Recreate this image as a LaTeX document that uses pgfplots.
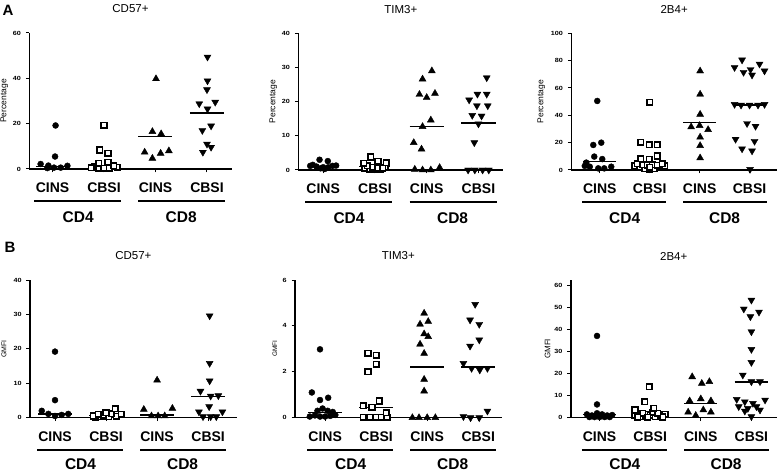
\documentclass[border=0pt]{standalone}
\usepackage{fontspec}
\setmainfont{Liberation Sans}
\usepackage{pgfplots}
\pgfplotsset{compat=1.18}
\pgfplotsset{
 gp/.style={
  scale only axis, clip=false,
  axis x line=bottom, axis y line=left,
  axis line style={line width=1.6pt,-},
  ymin=0,
  xtick={1,2,3,4}, xticklabels={},
  tick align=outside, major tick length=3.5pt,
  tick style={line width=1pt,black},
  yticklabel style={font=\fontsize{6}{6}\selectfont\bfseries, xscale=1.2, xshift=-0.5pt},
  /pgf/number format/assume math mode=true,
  every axis title/.style={at={(axis description cs:0.5,1)}, anchor=center, yshift=24pt, font=\fontsize{11.5}{12}\selectfont},
 },
 yl/.style 2 args={every axis y label/.style={at={(axis description cs:0,0.5)}, xshift=-#1pt, rotate=90, anchor=center, font=\fontsize{#2}{8}\selectfont}},
 ci/.style={only marks, mark=*, mark size=3pt, black},
 cb/.style={only marks, mark=square*, mark size=2.8pt, mark options={fill=white, draw=black, line width=1.6pt}},
 tu/.style={only marks, mark=triangle*, mark size=4pt, black},
 td/.style={only marks, mark=triangle*, mark size=4pt, black, mark options={rotate=180}},
 mn/.style={no marks, black, line width=1.5pt},
}
\newcommand{\grp}[2]{%
 \node[anchor=base, font=\fontsize{14}{14}\selectfont\bfseries] at ([yshift=-#1pt]axis cs:1,0) {CINS};
 \node[anchor=base, font=\fontsize{14}{14}\selectfont\bfseries] at ([yshift=-#1pt]axis cs:2,0) {CBSI};
 \node[anchor=base, font=\fontsize{14}{14}\selectfont\bfseries] at ([yshift=-#1pt]axis cs:3,0) {CINS};
 \node[anchor=base, font=\fontsize{14}{14}\selectfont\bfseries] at ([yshift=-#1pt]axis cs:4,0) {CBSI};
 \draw[line width=2pt] ([yshift=-#1pt-8pt]axis cs:0.65,0) -- ([yshift=-#1pt-8pt]axis cs:2.33,0);
 \draw[line width=2pt] ([yshift=-#1pt-8pt]axis cs:2.67,0) -- ([yshift=-#1pt-8pt]axis cs:4.35,0);
 \node[anchor=base, font=\fontsize{15.5}{16}\selectfont\bfseries] at ([yshift=-#2pt]axis cs:1.5,0) {CD4};
 \node[anchor=base, font=\fontsize{15.5}{16}\selectfont\bfseries] at ([yshift=-#2pt]axis cs:3.5,0) {CD8};
}
\begin{document}
\begin{tikzpicture}
\path[use as bounding box] (0pt,0pt) rectangle (778pt,473pt);
\node[font=\fontsize{15}{15}\selectfont\bfseries] at (8pt,463pt) {A};
\node[font=\fontsize{15}{15}\selectfont\bfseries] at (10pt,226pt) {B};
% ---------- A1
\begin{axis}[gp, yl={25}{8.5}, at={(29.3pt,304pt)}, anchor=south west, width=202.4pt, height=136pt,
  xmin=0.55, xmax=4.48, ymax=60, ytick={0,20,40,60}, title={CD57+}, ylabel={Percentage}]
\addplot[ci] coordinates {(0.77,2.2)(0.92,1.5)(1.03,0.6)(1.16,0.6)(1.29,1.4)(1.06,19.2)(1.05,5.5)(0.9,0.4)};
\addplot[cb] coordinates {(1.81,1)(1.75,0.5)(1.9,0.3)(2.0,0.3)(2.1,0.3)(2.26,0.8)(2.19,1.5)(1.9,2.5)(2.08,3)(1.92,8.4)(2.08,6.9)(2.0,19.2)};
\addplot[tu] coordinates {(3.01,39.8)(2.94,16.5)(3.11,15.5)(2.79,7.4)(2.94,4.7)(3.10,6.9)(3.26,8.0)};
\addplot[td] coordinates {(4.01,49.4)(4.01,38.9)(4.0,35)(3.85,28.8)(4.16,29.5)(4.01,26.5)(3.91,17)(4.08,19)(4.0,11)(4.08,9.6)(3.92,7.4)};
\addplot[mn] coordinates {(0.68,1.2)(1.34,1.2)};
\addplot[mn] coordinates {(1.7,1.4)(2.32,1.4)};
\addplot[mn] coordinates {(2.67,14.3)(3.33,14.3)};
\addplot[mn] coordinates {(3.67,24.6)(4.33,24.6)};
\grp{24}{54}
\end{axis}
% ---------- A2
\begin{axis}[gp, yl={25}{8.5}, at={(298.3pt,303pt)}, anchor=south west, width=205pt, height=136.7pt,
  xmin=0.52, xmax=4.48, ymax=40, ytick={0,10,20,30,40}, title={TIM3+}, ylabel={Percentage}]
\addplot[ci] coordinates {(0.75,1.2)(0.8,1.5)(0.87,1.0)(0.95,0.5)(1.03,0.3)(1.0,0.8)(1.1,0.8)(1.18,1.2)(1.25,1.3)(0.93,3.0)(1.09,2.6)};
\addplot[cb] coordinates {(1.8,0.6)(1.9,0.3)(2.0,0.2)(2.1,0.2)(2.2,0.8)(1.95,0.8)(2.05,0.5)(2.15,0.6)(1.85,1.2)(1.78,2.0)(2.22,2.1)(2.06,2.5)(1.92,3.8)};
\addplot[tu] coordinates {(3.1,29)(2.92,26.6)(2.86,22.1)(3.0,21.2)(3.16,22.4)(3.08,14.6)(2.92,12.7)(2.75,8)(2.9,6.1)(2.77,0.2)(2.92,0)(3.08,0)(3.25,0.7)};
\addplot[td] coordinates {(4.16,27)(3.98,22.2)(4.16,22.2)(3.82,20.5)(3.97,18.8)(4.18,18.8)(3.88,16)(4.06,15.8)(4.0,13.5)(3.92,8)(3.8,0)(3.93,0)(4.08,0)(4.2,0)};
\addplot[mn] coordinates {(0.7,1.0)(1.3,1.0)};
\addplot[mn] coordinates {(1.7,1.0)(2.3,1.0)};
\addplot[mn] coordinates {(2.67,12.7)(3.33,12.7)};
\addplot[mn] coordinates {(3.67,13.7)(4.33,13.7)};
\grp{24}{54}
\end{axis}
% ---------- A3
\begin{axis}[gp, yl={30}{8.5}, at={(571.3pt,303pt)}, anchor=south west, width=205.7pt, height=136.7pt,
  xmin=0.43, xmax=4.55, ymax=100, ytick={0,20,40,60,80,100}, title={2B4+}, ylabel={Percentage}]
\addplot[ci] coordinates {(0.95,50.5)(0.87,18.3)(1.03,20)(0.89,9.8)(1.05,8)(0.73,5.4)(0.8,2.4)(0.97,1.2)(1.09,1.2)(1.23,2.4)(0.7,3)};
\addplot[cb] coordinates {(1.7,3)(1.8,2)(1.9,1)(2.0,0.5)(2.1,1)(2.2,2)(2.3,3)(1.85,4)(1.95,3.5)(2.05,4)(2.15,3.5)(1.75,4.5)(2.25,4.5)(2.0,2)(1.82,8.3)(1.99,7.8)(2.15,10.2)(1.82,20.2)(1.99,18.5)(2.15,18.5)(2.0,49.5)};
\addplot[tu] coordinates {(3.01,72.4)(3.01,55.4)(3.01,40.7)(2.83,31.5)(3.0,32.5)(3.17,29.5)(3.01,24)(3.01,17.8)(3.01,8.8)};
\addplot[td] coordinates {(3.85,80.5)(3.7,75)(4.02,73.5)(4.2,77.5)(3.88,71.5)(4.05,69.5)(4.3,72.5)(3.7,48)(3.83,47.5)(4.0,47.5)(4.17,47.5)(4.3,48)(3.95,34)(4.12,32)(3.72,22.5)(4.1,21)(3.85,15.5)(4.05,14)(4.01,0.5)};
\addplot[mn] coordinates {(0.67,6.1)(1.33,6.1)};
\addplot[mn] coordinates {(1.67,4.5)(2.33,4.5)};
\addplot[mn] coordinates {(2.67,34.6)(3.33,34.6)};
\addplot[mn] coordinates {(3.67,47.5)(4.33,47.5)};
\grp{24}{54}
\end{axis}
% ---------- B1
\begin{axis}[gp, yl={26}{7}, at={(30pt,55.3pt)}, anchor=south west, width=206.7pt, height=137.7pt,
  xmin=0.51, xmax=4.56, ymax=40, ytick={0,10,20,30,40}, title={CD57+}, ylabel={GMFI}]
\addplot[ci] coordinates {(1.0,19.2)(1.0,5.1)(0.74,2.0)(0.87,1.1)(1.0,0.5)(1.13,0.8)(1.26,1.1)};
\addplot[cb] coordinates {(1.8,0.2)(1.75,0.5)(1.9,0.3)(2.05,0.3)(2.2,0.4)(2.3,1)(1.95,0.8)(2.1,1.2)(1.85,1)(2.0,1.5)(2.18,2.6)};
\addplot[tu] coordinates {(3.0,10.9)(2.74,2.4)(3.3,2.7)(2.89,0.5)(3.02,0.5)(3.15,0.5)};
\addplot[td] coordinates {(4.03,29.6)(4.03,15.8)(4.03,10.7)(3.85,7.7)(4.05,6.3)(4.2,6.4)(4.02,3.2)(3.82,1.7)(4.28,1.7)(3.9,0.3)(4.05,0.3)(4.16,0.3)};
\addplot[mn] coordinates {(0.67,1.1)(1.33,1.1)};
\addplot[mn] coordinates {(1.67,0.7)(2.33,0.7)};
\addplot[mn] coordinates {(2.67,0.8)(3.33,0.8)};
\addplot[mn] coordinates {(3.67,6.1)(4.33,6.1)};
\grp{24}{52}
\end{axis}
% ---------- B2
\begin{axis}[gp, yl={20}{6.5}, at={(295pt,55.3pt)}, anchor=south west, width=206.7pt, height=137.7pt,
  xmin=0.41, xmax=4.46, ymax=6, ytick={0,2,4,6}, title={TIM3+}, ylabel={GMFI}]
\addplot[ci] coordinates {(0.85,0.3)(0.95,0.4)(1.05,0.3)(0.8,0.1)(0.9,0.05)(1.0,0.05)(1.1,0.08)(1.2,0.12)(0.7,0.05)(1.15,0.25)(0.74,1.1)(0.9,0.77)(1.06,0.87)(0.9,2.98)};
\addplot[cb] coordinates {(1.75,0.02)(1.87,0.02)(1.99,0.02)(2.1,0.02)(2.22,0.02)(2.2,0.22)(1.75,0.52)(1.92,0.45)(2.06,0.73)(1.84,2.0)(2.0,2.33)(1.84,2.8)(2.0,2.72)};
\addplot[tu] coordinates {(2.94,4.55)(2.86,4.07)(3.02,4.19)(2.94,3.65)(3.02,3.53)(2.86,3.2)(2.94,2.8)(2.94,1.67)(2.94,1.16)(2.71,0)(2.84,0)(3.0,0)(3.16,0)};
\addplot[td] coordinates {(3.94,4.94)(3.84,4.26)(4.02,4.07)(4.02,3.39)(3.84,3.12)(3.71,2.37)(3.87,2.15)(4.03,2.08)(4.18,2.15)(4.18,0.29)(3.71,0.05)(3.85,0.0)(4.02,0.0)};
\addplot[mn] coordinates {(0.67,0.22)(1.33,0.22)};
\addplot[mn] coordinates {(1.67,0.44)(2.33,0.44)};
\addplot[mn] coordinates {(2.67,2.22)(3.33,2.22)};
\addplot[mn] coordinates {(3.67,2.22)(4.33,2.22)};
\grp{24}{52}
\end{axis}
% ---------- B3
\begin{axis}[gp, yl={23}{8}, at={(570.7pt,55.3pt)}, anchor=south west, width=206pt, height=137.7pt,
  xmin=0.43, xmax=4.5, ymax=62.3, ytick={0,10,20,30,40,50,60}, title={2B4+}, ylabel={GMFI}]
\addplot[ci] coordinates {(0.75,1.5)(0.85,1)(0.95,2)(1.05,1.5)(1.15,1)(1.25,1.2)(0.8,0.3)(0.9,0.3)(1.0,0.3)(1.1,0.3)(1.2,0.3)(0.95,6.0)(0.95,37)};
\addplot[cb] coordinates {(1.7,1)(1.8,0.5)(1.9,1.5)(2.0,1)(2.1,0.5)(2.2,1.2)(2.3,1.5)(1.85,2)(2.05,2.5)(2.25,0.3)(1.95,0.2)(1.75,0.3)(2.15,2)(1.7,3.5)(2.07,4.2)(1.89,7.2)(1.98,14)};
\addplot[tu] coordinates {(2.83,18.5)(3.02,15.5)(3.17,16.3)(2.78,7.6)(3.0,8.5)(3.2,7.6)(2.75,2.5)(2.9,1)(3.05,3.5)(3.2,2.5)};
\addplot[td] coordinates {(4.0,53.2)(3.85,49.2)(3.98,45.7)(4.15,47.8)(4.0,38.9)(4.0,30.9)(4.0,25)(3.83,19.3)(4.0,16.3)(4.17,16.3)(3.71,8.3)(3.87,7.2)(4.03,6.5)(4.27,8)(3.75,5)(3.93,4.2)(4.1,5)(3.87,3)(4.17,3.5)(4.0,0.5)};
\addplot[mn] coordinates {(0.67,1.5)(1.33,1.5)};
\addplot[mn] coordinates {(1.67,1.2)(2.33,1.2)};
\addplot[mn] coordinates {(2.67,6.5)(3.33,6.5)};
\addplot[mn] coordinates {(3.67,16.1)(4.33,16.1)};
\grp{24}{52}
\end{axis}
\end{tikzpicture}
\end{document}
